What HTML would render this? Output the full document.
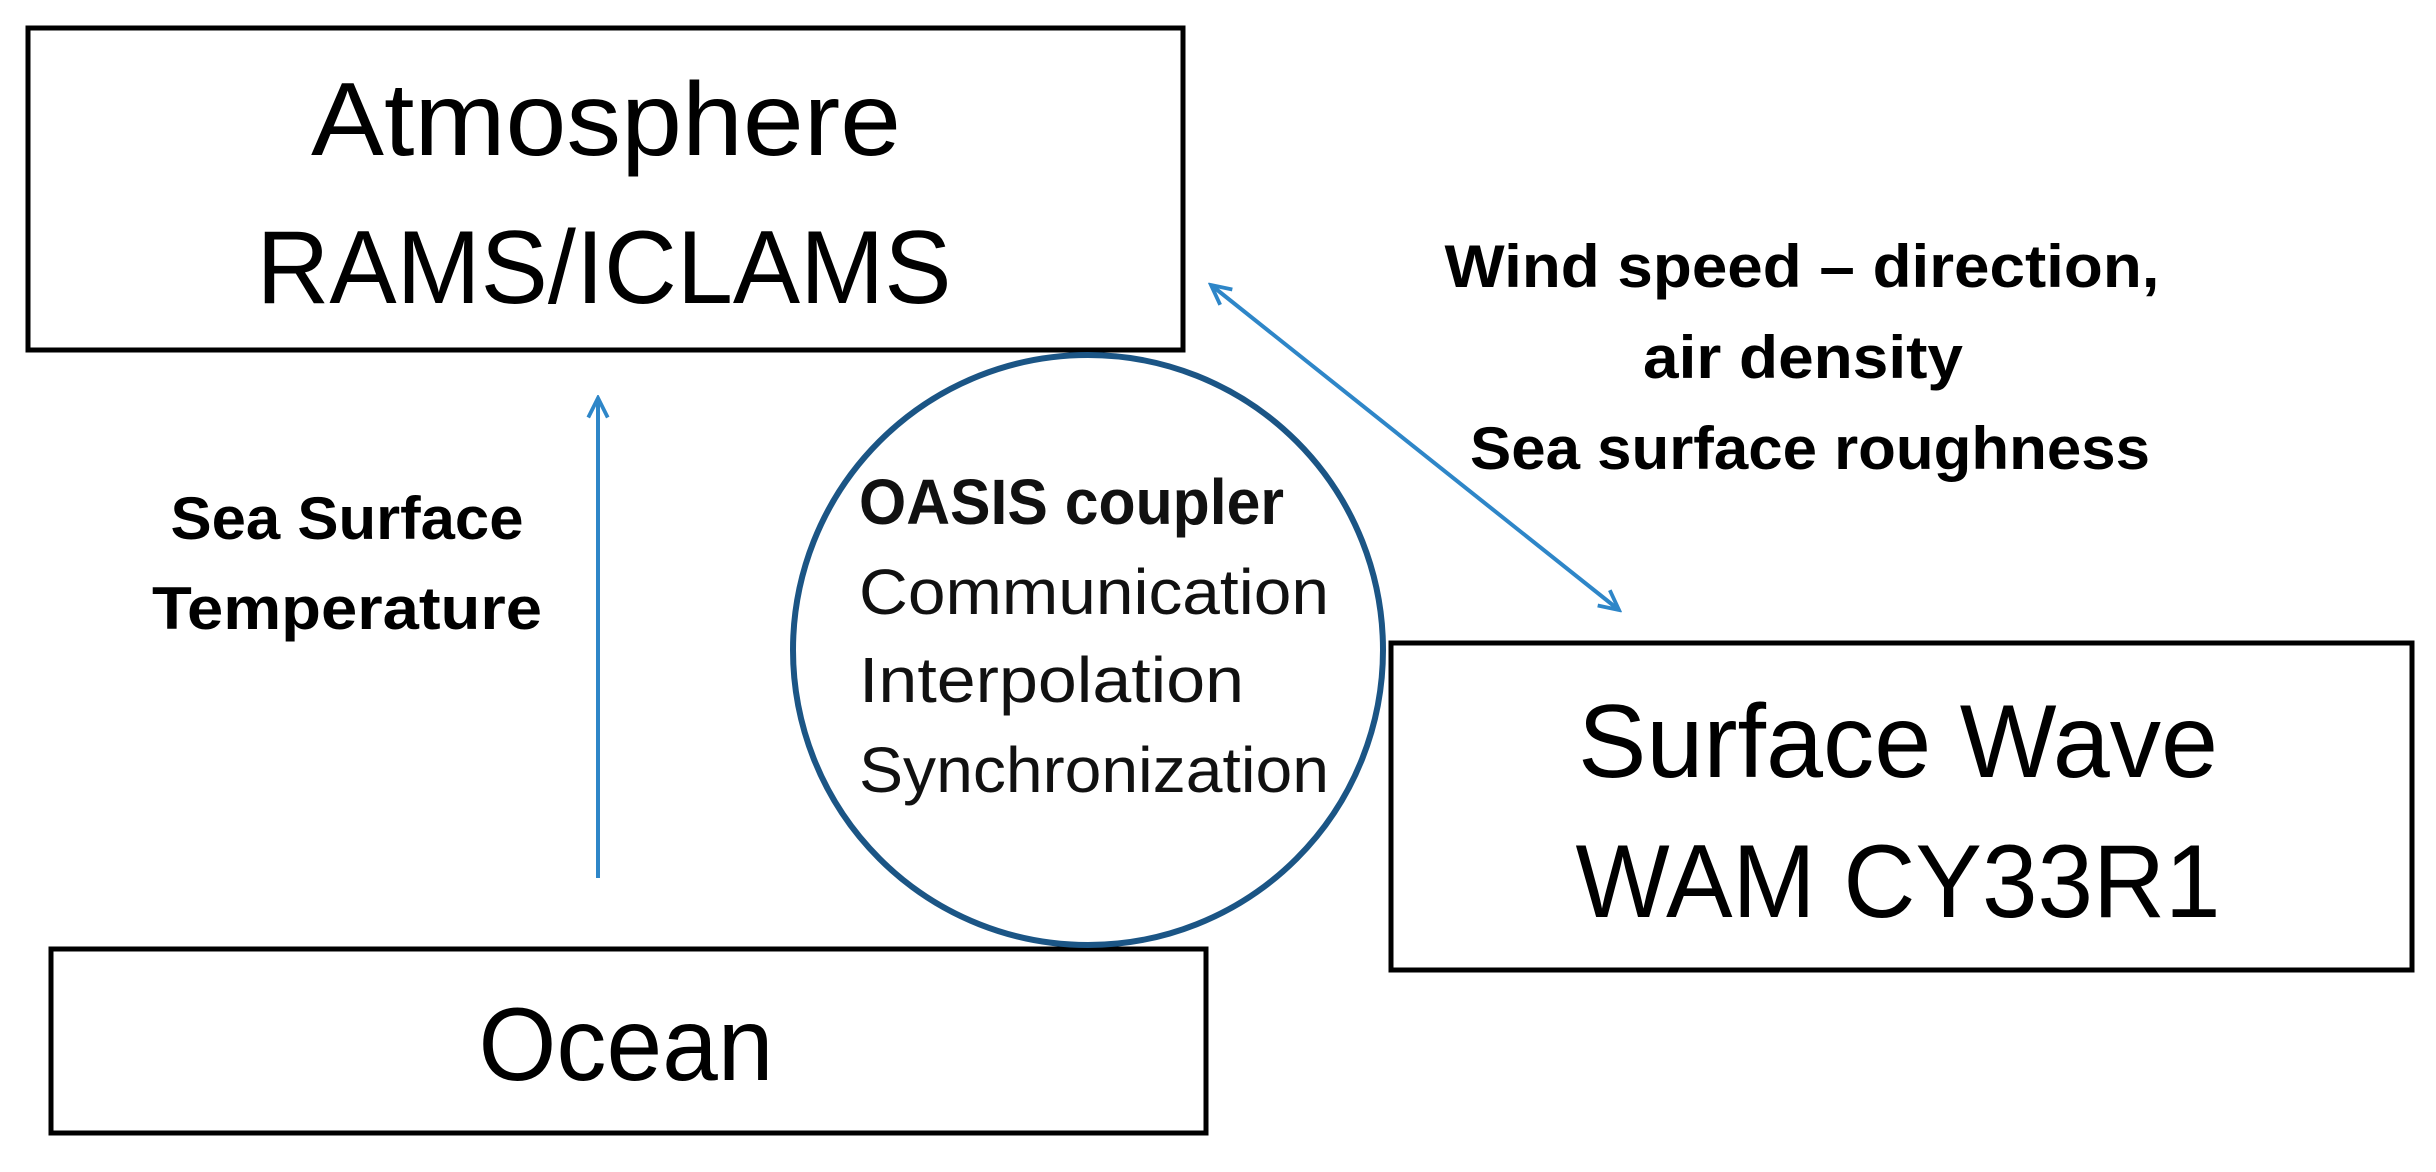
<!DOCTYPE html>
<html><head><meta charset="utf-8"><style>html,body{margin:0;padding:0;background:#fff}svg{display:block}</style></head>
<body>
<svg width="2436" height="1172" viewBox="0 0 2436 1172" xmlns="http://www.w3.org/2000/svg" font-family="Liberation Sans, sans-serif">
<defs>
<marker id="ah" viewBox="0 0 24 24" refX="21" refY="12" markerWidth="26" markerHeight="26" markerUnits="userSpaceOnUse" orient="auto-start-reverse">
<path d="M3,3 L21,12 L3,21" fill="none" stroke="#2e86c8" stroke-width="3.5"/>
</marker>
</defs>
<rect x="28" y="28" width="1155" height="322" fill="none" stroke="#000" stroke-width="5"/>
<rect x="51" y="949" width="1155" height="184" fill="none" stroke="#000" stroke-width="5"/>
<rect x="1391" y="643" width="1021" height="327" fill="none" stroke="#000" stroke-width="5"/>
<circle cx="1088" cy="650" r="295" fill="#fff" stroke="#1b5585" stroke-width="6"/>
<line x1="598" y1="878" x2="598" y2="398" stroke="#2e86c8" stroke-width="4" marker-end="url(#ah)"/>
<line x1="1211" y1="285" x2="1619" y2="610" stroke="#2e86c8" stroke-width="4" marker-end="url(#ah)" marker-start="url(#ah)"/>
<g fill="#000" text-anchor="middle">
<text x="606" y="155" font-size="104" textLength="590" lengthAdjust="spacingAndGlyphs">Atmosphere</text>
<text x="604" y="303" font-size="104" textLength="695" lengthAdjust="spacingAndGlyphs">RAMS/ICLAMS</text>
<text x="626" y="1080" font-size="104" textLength="295" lengthAdjust="spacingAndGlyphs">Ocean</text>
<text x="1898" y="777" font-size="104" textLength="640" lengthAdjust="spacingAndGlyphs">Surface Wave</text>
<text x="1898" y="917" font-size="104" textLength="645" lengthAdjust="spacingAndGlyphs">WAM CY33R1</text>
<g font-weight="bold" font-size="60">
<text x="347" y="539" textLength="353" lengthAdjust="spacingAndGlyphs">Sea Surface</text>
<text x="347" y="629" textLength="390" lengthAdjust="spacingAndGlyphs">Temperature</text>
<text x="1802" y="287" textLength="715" lengthAdjust="spacingAndGlyphs">Wind speed – direction,</text>
<text x="1803" y="378" textLength="320" lengthAdjust="spacingAndGlyphs">air density</text>
<text x="1810" y="469" textLength="680" lengthAdjust="spacingAndGlyphs">Sea surface roughness</text>
</g>
</g>
<g fill="#111" font-size="64">
<text x="859" y="524" font-weight="bold" textLength="425" lengthAdjust="spacingAndGlyphs">OASIS coupler</text>
<text x="859" y="614" textLength="470" lengthAdjust="spacingAndGlyphs">Communication</text>
<text x="859" y="702" textLength="385" lengthAdjust="spacingAndGlyphs">Interpolation</text>
<text x="859" y="792" textLength="470" lengthAdjust="spacingAndGlyphs">Synchronization</text>
</g>
</svg>
</body></html>
